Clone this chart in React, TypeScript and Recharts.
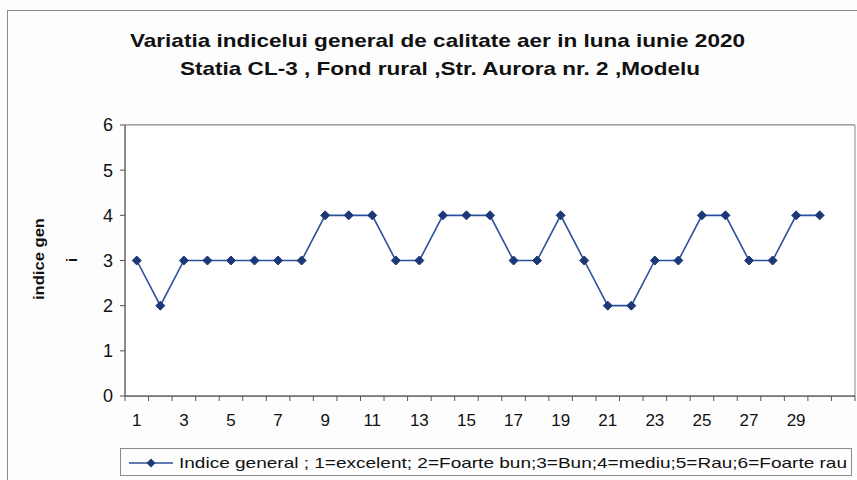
import React from 'react';
import { LineChart, Line, XAxis, YAxis, CartesianGrid, ReferenceArea } from 'recharts';

const days = [1,2,3,4,5,6,7,8,9,10,11,12,13,14,15,16,17,18,19,20,21,22,23,24,25,26,27,28,29,30];
const values = [3,2,3,3,3,3,3,3,4,4,4,3,3,4,4,4,3,3,4,3,2,2,3,3,4,4,3,3,4,4];
const xTickLabels = [1,3,5,7,9,11,13,15,17,19,21,23,25,27,29];
const xBoundaries = [0.5,1.5,2.5,3.5,4.5,5.5,6.5,7.5,8.5,9.5,10.5,11.5,12.5,13.5,14.5,15.5,16.5,17.5,18.5,19.5,20.5,21.5,22.5,23.5,24.5,25.5,26.5,27.5,28.5,29.5,30.5,31.5];
const yTicks = [0,1,2,3,4,5,6];

const titleLine1 = 'Variatia indicelui general de calitate aer in luna iunie 2020';
const titleLine2 = 'Statia CL-3 , Fond rural ,Str. Aurora nr. 2 ,Modelu';
const yLabel1 = 'indice gen';
const yLabel2 = 'i';
const legendText = 'Indice general ; 1=excelent; 2=Foarte bun;3=Bun;4=mediu;5=Rau;6=Foarte rau';

const data = days.map((d, i) => ({ day: d, v: values[i] }));

const LINE = '#2b519c';
const MARK = '#1d3877';
const FONT = '"Liberation Sans", Arial, sans-serif';

const Diamond = (props: any) => {
  const { cx, cy } = props;
  if (cx == null || cy == null) return null;
  const s = 4.5;
  return <path d={`M${cx},${cy - s}L${cx + s},${cy}L${cx},${cy + s}L${cx - s},${cy}Z`} fill={MARK} stroke={MARK} />;
};

export default function App() {
  return (
    <div style={{ position: 'absolute', left: 0, top: 0, width: 857, height: 480, background: '#fdfdfd', fontFamily: FONT, overflow: 'hidden' }}>
      <div style={{ position: 'absolute', left: 7, top: 10, width: 900, height: 520, border: '1px solid #8a8a8a' }} />
      <svg style={{ position: 'absolute', left: 0, top: 0 }} width={857} height={480}>
        <text x={130} y={47} textLength={615} lengthAdjust="spacingAndGlyphs" fontWeight="bold" fontSize={19} fontFamily={FONT} fill="#111">{titleLine1}</text>
        <text x={180} y={75} textLength={520} lengthAdjust="spacingAndGlyphs" fontWeight="bold" fontSize={19} fontFamily={FONT} fill="#111">{titleLine2}</text>
        <text x={0} y={0} transform="translate(44,300) rotate(-90)" textLength={82} lengthAdjust="spacingAndGlyphs" fontWeight="bold" fontSize={15} fontFamily={FONT} fill="#111">{yLabel1}</text>
        <text x={0} y={0} transform="translate(77,262) rotate(-90)" fontWeight="bold" fontSize={15} fontFamily={FONT} fill="#111">{yLabel2}</text>
      </svg>
      <div style={{ position: 'absolute', left: 0, top: 0 }}>
        <LineChart width={857} height={480} data={data} margin={{ top: 125, right: 2, bottom: 82, left: 85 }}>
          <ReferenceArea xAxisId="lab" x1={0.5} x2={31.5} y1={0} y2={6} fill="#ffffff" fillOpacity={1} stroke="#8a8a8a" strokeWidth={1} />
          <CartesianGrid xAxisId="lab" vertical={false} stroke="#7a7a7a" strokeWidth={1} />
          <XAxis xAxisId="a" dataKey="day" type="number" domain={[0.5, 31.5]} ticks={xBoundaries} interval={0} height={1}
            tickFormatter={() => ''} tickLine={{ stroke: '#555' }} tickSize={5} axisLine={{ stroke: '#555' }} />
          <XAxis xAxisId="lab" dataKey="day" type="number" domain={[0.5, 31.5]} ticks={xTickLabels} interval={0} height={1}
            tick={{ fontSize: 17, fill: '#111', fontFamily: FONT }} tickLine={false} axisLine={false} tickMargin={11} />
          <YAxis domain={[0, 6]} ticks={yTicks} interval={0} width={40}
            tick={{ fontSize: 18, fill: '#111', fontFamily: FONT }} tickLine={{ stroke: '#555' }} tickSize={5} tickMargin={7} axisLine={{ stroke: '#555' }} />
          <Line xAxisId="lab" type="linear" dataKey="v" stroke={LINE} strokeWidth={1.6} dot={<Diamond />} activeDot={false} isAnimationActive={false} />
        </LineChart>
      </div>
      <div style={{ position: 'absolute', left: 120, top: 448, width: 732, height: 28, border: '1px solid #8a8a8a', boxSizing: 'border-box', background: '#fdfdfd' }}>
        <svg style={{ position: 'absolute', left: 0, top: 0 }} width={730} height={26}>
          <line x1={8} y1={14} x2={52} y2={14} stroke={LINE} strokeWidth={1.6} />
          <path d="M30,9.5L34.5,14L30,18.5L25.5,14Z" fill={MARK} />
          <text x={58} y={19} textLength={668} lengthAdjust="spacingAndGlyphs" fontSize={15} fontFamily={FONT} fill="#111">{legendText}</text>
        </svg>
      </div>
    </div>
  );
}
